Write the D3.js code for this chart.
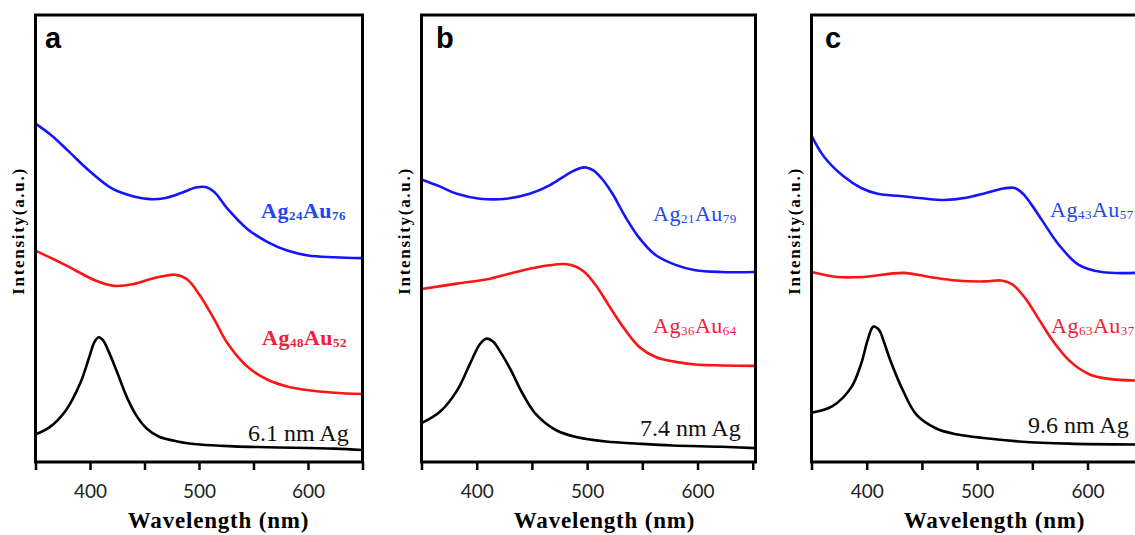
<!DOCTYPE html>
<html>
<head>
<meta charset="utf-8">
<script src="https://cdn.jsdelivr.net/npm/d3@7"></script>
<style>
  body { margin: 0; background: #fff; }
</style>
</head>
<body>
<div id="chart"></div>
<script>
// UV-vis spectra, three panels (a, b, c)
var wl_ticks = [350, 400, 450, 500, 550, 600, 650];
var wl_labels = [400, 500, 600];
var panel_names = ["a", "b", "c"];
var size_labels = ["6.1 nm Ag", "7.4 nm Ag", "9.6 nm Ag"];
var blue_labels = [["Ag", "24", "Au", "76"], ["Ag", "21", "Au", "79"], ["Ag", "43", "Au", "57"]];
var red_labels = [["Ag", "48", "Au", "52"], ["Ag", "36", "Au", "64"], ["Ag", "63", "Au", "37"]];

// [wavelength nm, intensity a.u.]
var a_blue = [[350, 75.7], [365, 73.0], [380, 69.6], [400, 65.0], [420, 61.2], [440, 59.4], [455, 58.8], [468, 59.0], [483, 60.1], [497, 61.4], [506, 61.5], [514, 60.4], [526, 56.7], [544, 52.2], [563, 49.2], [581, 47.3], [600, 46.2], [624, 45.8], [650, 45.6]];
var a_red = [[350, 47.3], [378, 44.0], [405, 40.6], [422, 39.4], [440, 39.8], [455, 40.9], [468, 41.6], [478, 41.9], [489, 40.9], [501, 37.2], [514, 31.9], [526, 26.6], [544, 21.4], [563, 18.4], [581, 16.9], [599, 16.1], [624, 15.5], [650, 15.2]];
var a_black = [[350, 6.2], [363, 7.8], [378, 11.6], [391, 17.6], [400, 24.0], [404, 26.8], [408, 27.9], [412, 27.2], [417, 24.8], [425, 20.0], [434, 14.4], [443, 10.2], [452, 7.5], [463, 5.7], [480, 4.6], [501, 3.9], [532, 3.5], [563, 3.3], [624, 3.0], [650, 2.7]];

var b_blue = [[350, 63.2], [367, 61.6], [382, 60.0], [403, 58.9], [427, 58.9], [448, 60.0], [466, 61.9], [481, 64.2], [492, 65.6], [499, 65.9], [506, 65.2], [514, 63.2], [523, 60.0], [535, 54.7], [547, 50.2], [562, 46.3], [580, 44.1], [598, 42.9], [622, 42.5], [652, 42.5]];
var b_red = [[350, 38.7], [382, 39.9], [412, 41.0], [442, 42.9], [466, 44.0], [480, 44.3], [489, 43.8], [497, 42.6], [508, 39.5], [520, 34.9], [532, 30.4], [547, 25.8], [562, 23.5], [580, 22.4], [598, 21.8], [622, 21.6], [652, 21.5]];
var b_black = [[350, 8.7], [367, 11.3], [382, 15.9], [394, 22.0], [403, 26.4], [409, 27.6], [415, 26.9], [421, 24.8], [430, 21.0], [442, 15.1], [454, 10.6], [472, 7.1], [490, 5.6], [517, 4.6], [547, 4.1], [577, 3.7], [622, 3.4], [652, 3.1]];

var c_blue = [[350, 73.0], [361, 68.4], [379, 63.9], [395, 61.3], [410, 60.0], [430, 59.5], [450, 59.0], [470, 58.6], [490, 59.1], [508, 60.2], [524, 61.2], [534, 61.3], [542, 59.9], [550, 57.3], [559, 54.0], [574, 48.6], [592, 44.1], [613, 42.5], [652, 42.4]];
var c_red = [[350, 42.5], [373, 41.4], [397, 41.4], [433, 42.3], [457, 41.4], [481, 40.6], [508, 40.4], [522, 40.6], [532, 39.7], [544, 36.5], [556, 31.9], [568, 27.3], [583, 22.8], [601, 19.7], [619, 18.6], [652, 18.2]];
var c_black = [[350, 11.0], [369, 12.5], [386, 16.7], [395, 22.0], [401, 27.4], [406, 30.3], [411, 29.6], [416, 26.6], [421, 23.0], [433, 15.9], [445, 10.6], [463, 7.5], [481, 6.2], [508, 5.3], [538, 4.6], [583, 4.1], [652, 3.9]];

var blue_series = [a_blue, b_blue, c_blue];
var red_series = [a_red, b_red, c_red];
var black_series = [a_black, b_black, c_black];

var width = 1135, height = 535;
var top_y = 15, bottom_y = 462;

// frame left/right, x domain end, letter x, label positions
var panels = [
    { left: 35.5, right: 362.5, xmax: 650, letter: 45, bx: 261, rx: 262, kx: 248, by: 218, ry: 345, ky: 441, bold: true },
    { left: 421.5, right: 755.5, xmax: 652.5, letter: 436, bx: 653, rx: 653, kx: 640, by: 221, ry: 333, ky: 436, bold: false },
    { left: 811.5, right: 1145.5, xmax: 652.5, letter: 825, bx: 1050, rx: 1051, kx: 1028, by: 217, ry: 333, ky: 433, bold: false }
];

var svg = d3.select("#chart")
    .append("svg")
    .attr("width", width)
    .attr("height", height);

var y = d3.scaleLinear().domain([0, 100]).range([bottom_y, top_y]);

panels.forEach(function (p, i) {
    var x = d3.scaleLinear().domain([350, p.xmax]).range([p.left, p.right]);
    var g = svg.append("g");

    var line = d3.line()
        .x(function (d) { return x(d[0]); })
        .y(function (d) { return y(d[1]); })
        .curve(d3.curveCatmullRom.alpha(0.5));

    var curves = [[blue_series[i], "#1414ff"], [red_series[i], "#ff1414"], [black_series[i], "#000"]];
    curves.forEach(function (c) {
        g.append("path")
            .datum(c[0])
            .attr("fill", "none")
            .attr("stroke", c[1])
            .attr("stroke-width", 2.6)
            .attr("stroke-linejoin", "round")
            .attr("d", line);
    });

    // frame
    g.append("rect")
        .attr("x", p.left)
        .attr("y", top_y)
        .attr("width", p.right - p.left)
        .attr("height", bottom_y - top_y)
        .attr("fill", "none")
        .attr("stroke", "#000")
        .attr("stroke-width", 3);

    // bottom axis: ticks every 50, labels every 100
    var axis = d3.axisBottom(x)
        .tickValues(wl_ticks)
        .tickSize(8)
        .tickFormat(function (d) { return wl_labels.indexOf(d) >= 0 ? d : ""; });
    var ax = g.append("g")
        .attr("transform", "translate(0," + bottom_y + ")")
        .call(axis);
    ax.select(".domain").remove();
    ax.selectAll(".tick line").attr("stroke", "#000").attr("stroke-width", 2.5);
    ax.selectAll(".tick text")
        .attr("y", 0)
        .attr("dy", 36)
        .attr("font-family", "Lato, 'Open Sans', sans-serif")
        .attr("font-size", 19)
        .attr("fill", "#222");

    g.append("text")
        .attr("x", p.left + 183)
        .attr("y", 528)
        .attr("text-anchor", "middle")
        .attr("font-family", "'Liberation Serif', serif")
        .attr("font-weight", "bold")
        .attr("font-size", 23)
        .attr("letter-spacing", 0.8)
        .text("Wavelength (nm)");

    g.append("text")
        .attr("transform", "translate(" + (p.left - 12) + ",231) rotate(-90)")
        .attr("text-anchor", "middle")
        .attr("font-family", "'Liberation Serif', serif")
        .attr("font-weight", "bold")
        .attr("font-size", 17)
        .attr("letter-spacing", 1.7)
        .text("Intensity(a.u.)");

    g.append("text")
        .attr("x", p.letter)
        .attr("y", 48)
        .attr("font-family", "'Liberation Sans', Arial, sans-serif")
        .attr("font-weight", "bold")
        .attr("font-size", 29)
        .text(panel_names[i]);

    // composition labels with subscripts
    function alloy(parts, lx, ly, color, bold) {
        var t = g.append("text")
            .attr("x", lx)
            .attr("y", ly)
            .attr("fill", color)
            .attr("font-family", "'Liberation Serif', serif")
            .attr("font-weight", bold ? "bold" : "normal")
            .attr("font-size", 22)
            .attr("letter-spacing", 0.5);
        parts.forEach(function (s, k) {
            var sub = k % 2 == 1;
            t.append("tspan")
                .attr("font-size", sub ? 13 : 22)
                .attr("dy", sub ? 2 : (k > 0 ? -2 : 0))
                .text(s);
        });
    }
    alloy(blue_labels[i], p.bx, p.by, "#2446ea", p.bold);
    alloy(red_labels[i], p.rx, p.ry, "#f0203a", p.bold);

    g.append("text")
        .attr("x", p.kx)
        .attr("y", p.ky)
        .attr("fill", "#111")
        .attr("font-family", "'Liberation Serif', serif")
        .attr("font-size", 24)
        .text(size_labels[i]);
});
</script>
</body>
</html>
